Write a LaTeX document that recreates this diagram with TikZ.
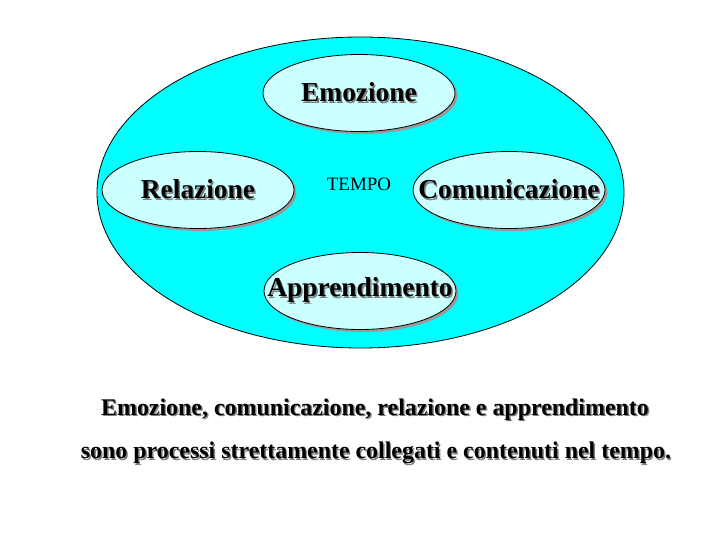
\documentclass[tikz,border=0pt]{standalone}
\usepackage{fontspec}
\setmainfont{Liberation Serif}
\usetikzlibrary{shapes.geometric,shadows}
\definecolor{ciano}{RGB}{0,255,255}
\definecolor{cianochiaro}{RGB}{204,255,255}
\newcommand{\ombra}[1]{\makebox[0pt][l]{\hspace{1.4pt}\raisebox{-1.4pt}{\textcolor{gray}{#1}}}#1}
\tikzset{
  parola/.style={ellipse, draw=black, fill=cianochiaro, inner sep=0pt, line width=0.8bp,
    minimum width=192bp, minimum height=77bp,
    drop shadow={shadow xshift=2.5bp, shadow yshift=-2.5bp, fill=gray!80, opacity=1},
    font=\fontsize{27.5}{29}\selectfont\bfseries},
  frase/.style={font=\fontsize{24}{26}\selectfont\bfseries}
}
\begin{document}
\begin{tikzpicture}[x=1bp, y=-1bp]
\useasboundingbox[fill=white] (0,0) rectangle (720,540);
% Contenitore: il tempo
\node[ellipse, draw=black, fill=ciano, line width=0.8bp, minimum width=527bp, minimum height=311bp, inner sep=0pt] (tempo) at (360.5,192.5) {};
\node[font=\fontsize{19}{21}\selectfont] (etichetta) at (359,184) {TEMPO};
% Le quattro dimensioni
\node[parola] (emozione) at (359,93) {\makebox[0pt]{\ombra{Emozione}}};
\node[parola] (relazione) at (198,190) {\makebox[0pt]{\ombra{Relazione}}};
\node[parola] (comunicazione) at (509,190) {\makebox[0pt]{\ombra{Comunicazione}}};
\node[parola] (apprendimento) at (360,291) {\makebox[0pt]{\ombra{Apprendimento}}};
% Didascalia
\node[frase] (riga1) at (375,410) {\ombra{Emozione, comunicazione, relazione e apprendimento}};
\node[frase] (riga2) at (376,454) {\ombra{sono processi strettamente collegati e contenuti nel tempo.}};
\end{tikzpicture}
\end{document}
